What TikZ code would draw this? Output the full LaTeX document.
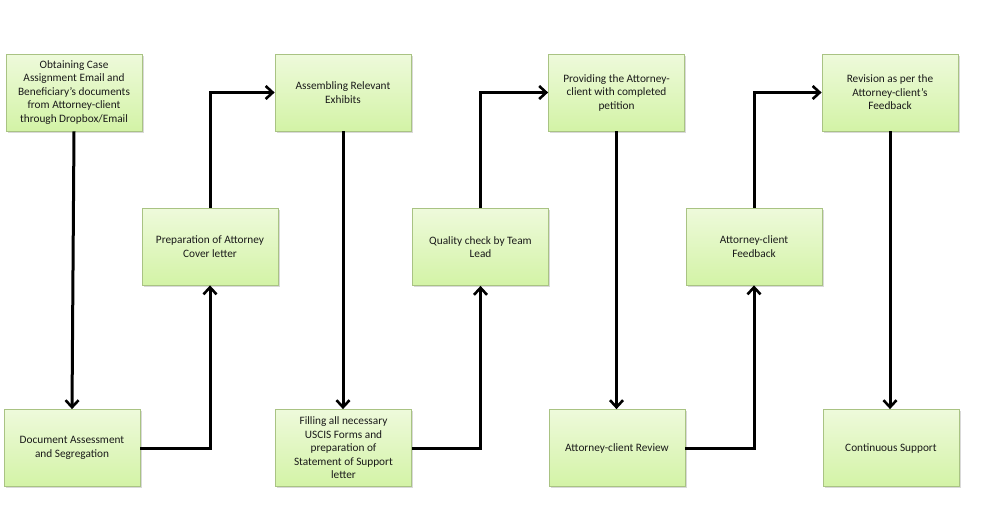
\documentclass[tikz,border=0pt]{standalone}
\usepackage{fontspec}
\setmainfont{Carlito}
\usetikzlibrary{arrows.meta,shadows,calc}
\definecolor{boxtop}{HTML}{EEFADB}
\definecolor{boxbot}{HTML}{D3F3A6}
\definecolor{boxline}{HTML}{A9C383}
\definecolor{txt}{HTML}{1A1A1A}
\tikzset{
  stepbox/.style={draw=boxline, line width=0.8pt, top color=boxtop, bottom color=boxbot,
    minimum width=136pt, minimum height=77pt, inner sep=1pt, align=center, text=txt,
    font=\fontsize{11.3}{13.5}\selectfont,
    drop shadow={shadow xshift=1.5pt, shadow yshift=-1.5pt, opacity=0.25, fill=black!60}},
  conn/.style={line width=3pt, -{Straight Barb[length=7pt,width=13pt,line width=2.6pt]}}
}
\begin{document}
\begin{tikzpicture}[x=1pt,y=-1pt]
\useasboundingbox (0,0) rectangle (1001,528);
\node[stepbox] (t1) at (74,92.5) {Obtaining Case\\Assignment Email and\\Beneficiary’s documents\\from Attorney-client\\through Dropbox/Email};
\node[stepbox] (t2) at (343,92.5) {Assembling Relevant\\Exhibits};
\node[stepbox] (t3) at (616.5,92.5) {Providing the Attorney-\\client with completed\\petition};
\node[stepbox] (t4) at (890,92.5) {Revision as per the\\Attorney-client’s\\Feedback};
\node[stepbox] (m1) at (210,246.5) {Preparation of Attorney\\Cover letter};
\node[stepbox] (m2) at (480.5,247) {Quality check by Team\\Lead};
\node[stepbox] (m3) at (754,246.5) {Attorney-client\\Feedback};
\node[stepbox] (b1) at (72,448) {Document Assessment\\and Segregation};
\node[stepbox] (b2) at (343.5,448) {Filling all necessary\\USCIS Forms and\\preparation of\\Statement of Support\\letter};
\node[stepbox] (b3) at (617,448) {Attorney-client Review};
\node[stepbox] (b4) at (891,448) {Continuous Support};
\draw[conn] (t1.south) -- (b1.north);
\draw[conn] (b1.east) -| (m1.south);
\draw[conn] (m1.north) |- (t2.west);
\draw[conn] (t2.south) -- (t2.south |- b2.north);
\draw[conn] (b2.east) -| (m2.south);
\draw[conn] (m2.north) |- (t3.west);
\draw[conn] (t3.south) -- (t3.south |- b3.north);
\draw[conn] (b3.east) -| (m3.south);
\draw[conn] (m3.north) |- (t4.west);
\draw[conn] (t4.south) -- (t4.south |- b4.north);
\end{tikzpicture}
\end{document}
